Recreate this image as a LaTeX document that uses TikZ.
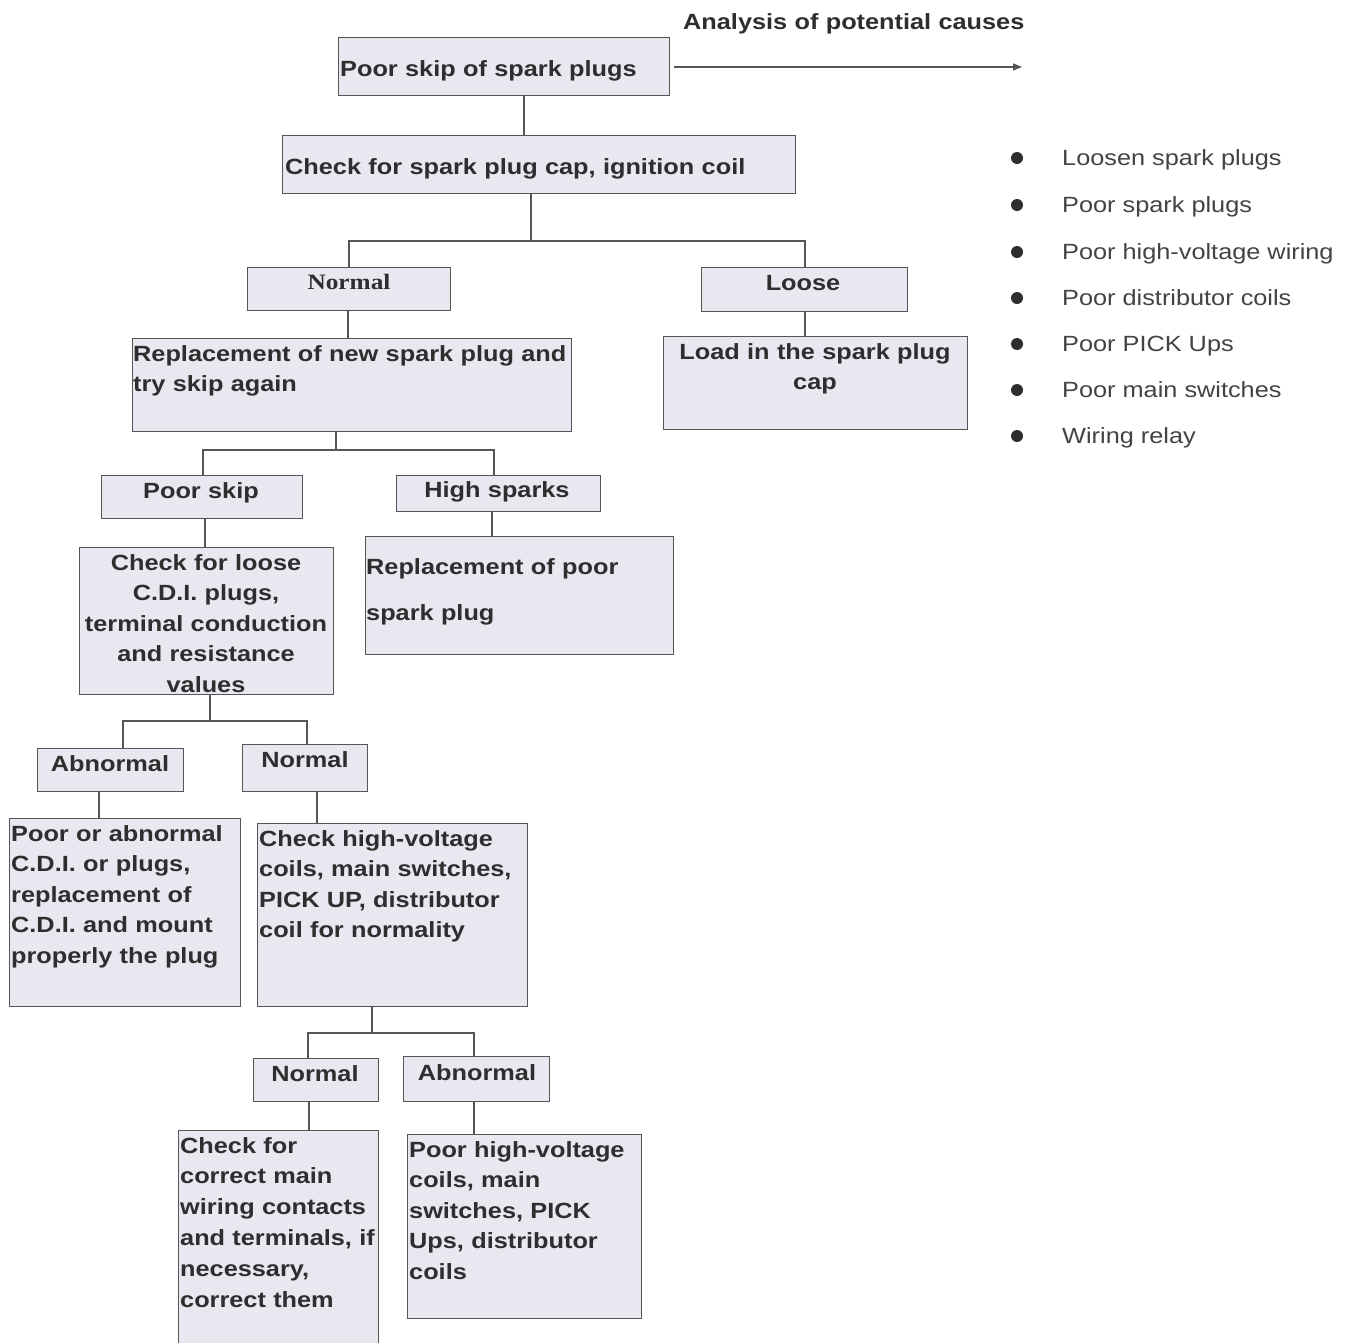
\documentclass[tikz,border=0pt]{standalone}
\usepackage{fontspec}
\setmainfont{Liberation Sans}[FakeStretch=1.15]
\newfontfamily\serifb{Liberation Serif}[FakeStretch=1.15]
\usetikzlibrary{arrows.meta}
\definecolor{boxfill}{HTML}{E9E7EF}
\definecolor{boxline}{HTML}{555555}
\definecolor{txt}{HTML}{2E2E2E}
\tikzset{
  box/.style={draw=boxline, fill=boxfill, line width=1.3pt, inner sep=0pt, rectangle},
  conn/.style={draw=boxline, line width=1.6pt},
  tl/.style={inner sep=0pt, text=txt, font=\fontsize{22}{30.6}\selectfont\bfseries, align=left, text width=#1, anchor=base west},
  tl/.default=400pt,
  tc/.style={inner sep=0pt, text=txt, font=\fontsize{22}{30.6}\selectfont\bfseries, align=center, text width=#1, anchor=base},
  tc/.default=300pt,
  lst/.style={inner sep=0pt, text=txt!90, font=\fontsize{22}{30.6}\selectfont, anchor=base west},
  dot/.style={circle, fill=txt, inner sep=0pt, minimum size=12pt}
}
\newcommand\bx[5]{\node[box, anchor=north west, minimum width={#4-#2}, minimum height={#5-#3}] (#1) at (#2,#3) {};}
\begin{document}
\begin{tikzpicture}[x=1pt,y=-1pt]
\useasboundingbox[fill=white] (0,0) rectangle (1349,1342);
% boxes
\bx{A}{338}{37}{669}{95}
\bx{B}{282}{135}{795}{193}
\bx{N1}{247}{267}{450}{310}
\bx{L}{701}{267}{907}{311}
\bx{C}{132}{338}{571}{431}
\bx{D}{663}{336}{967}{429}
\bx{PS}{101}{475}{302}{518}
\bx{HS}{396}{475}{600}{511}
\bx{E}{79}{547}{333}{694}
\bx{F}{365}{536}{673}{654}
\bx{AB1}{37}{748}{183}{791}
\bx{N2}{242}{744}{367}{791}
\bx{G}{9}{818}{240}{1006}
\bx{H}{257}{823}{527}{1006}
\bx{N3}{253}{1058}{378}{1101}
\bx{AB3}{403}{1056}{549}{1101}
\bx{I}{178}{1130}{378}{1352}
\bx{J}{407}{1134}{641}{1318}
% texts
\node[tl=420pt] (tTitle) at (683,29) {Analysis of potential causes};
\node[tl] (tA) at (340,76) {Poor skip of spark plugs};
\node[tl=560pt] (tB) at (285,174) {Check for spark plug cap, ignition coil};
\node[tc=200pt, font=\fontsize{22}{30.6}\selectfont\serifb\bfseries] (tN1) at (349,289) {Normal};
\node[tc=200pt] (tL) at (803,290) {Loose};
\node[tl=440pt] (tC) at (133,361) {Replacement of new spark plug and\\try skip again};
\node[tc=300pt] (tD) at (815,359) {Load in the spark plug\\cap};
\node[tc=200pt] (tPS) at (201,498) {Poor skip};
\node[tc=200pt] (tHS) at (497,497) {High sparks};
\node[tc=260pt] (tE) at (206,570) {Check for loose\\C.D.I. plugs,\\terminal conduction\\and resistance\\values};
\node[tl=300pt, font=\fontsize{22}{46}\selectfont\bfseries] (tF) at (366,574) {Replacement of poor\\spark plug};
\node[tc=150pt] (tAB1) at (110,771) {Abnormal};
\node[tc=130pt] (tN2) at (305,767) {Normal};
\node[tl=240pt] (tG) at (11,841) {Poor or abnormal\\C.D.I. or plugs,\\replacement of\\C.D.I. and mount\\properly the plug};
\node[tl=280pt] (tH) at (259,846) {Check high-voltage\\coils, main switches,\\PICK UP, distributor\\coil for normality};
\node[tc=130pt] (tN3) at (315,1081) {Normal};
\node[tc=150pt] (tAB3) at (477,1080) {Abnormal};
\node[tl=210pt, font=\fontsize{22}{30.8}\selectfont\bfseries] (tI) at (180,1153) {Check for\\correct main\\wiring contacts\\and terminals, if\\necessary,\\correct them};
\node[tl=240pt] (tJ) at (409,1157) {Poor high-voltage\\coils, main\\switches, PICK\\Ups, distributor\\coils};
% list
\node[dot] (d1) at (1017,158) {}; \node[lst] (l1) at (1062,165.5) {Loosen spark plugs};
\node[dot] (d2) at (1017,205) {}; \node[lst] (l2) at (1062,212.5) {Poor spark plugs};
\node[dot] (d3) at (1017,252) {}; \node[lst] (l3) at (1062,259.5) {Poor high-voltage wiring};
\node[dot] (d4) at (1017,298) {}; \node[lst] (l4) at (1062,305.5) {Poor distributor coils};
\node[dot] (d5) at (1017,344) {}; \node[lst] (l5) at (1062,351.5) {Poor PICK Ups};
\node[dot] (d6) at (1017,390) {}; \node[lst] (l6) at (1062,397.5) {Poor main switches};
\node[dot] (d7) at (1017,436) {}; \node[lst] (l7) at (1062,443.5) {Wiring relay};
% arrow
\coordinate (arrEnd) at (1022,67);
\draw[conn, -{Triangle[length=9pt,width=7pt]}] ([xshift=4pt]A.east |- arrEnd) -- (arrEnd);
% connectors
\coordinate (xAB) at (524,0);
\draw[conn] (A.south -| xAB) -- (B.north -| xAB);
\coordinate (s1) at (531,241); \coordinate (x1a) at (349,0); \coordinate (x1b) at (805,0);
\draw[conn] (B.south -| s1) -- (s1);
\draw[conn] (N1.north -| x1a) |- (s1) -| (L.north -| x1b);
\coordinate (xNC) at (348,0);
\draw[conn] (N1.south -| xNC) -- (C.north -| xNC);
\coordinate (xLD) at (805,0);
\draw[conn] (L.south -| xLD) -- (D.north -| xLD);
\coordinate (s2) at (336,450); \coordinate (x2a) at (203,0); \coordinate (x2b) at (494,0);
\draw[conn] (C.south -| s2) -- (s2);
\draw[conn] (PS.north -| x2a) |- (s2) -| (HS.north -| x2b);
\coordinate (xPE) at (205,0);
\draw[conn] (PS.south -| xPE) -- (E.north -| xPE);
\coordinate (xHF) at (492,0);
\draw[conn] (HS.south -| xHF) -- (F.north -| xHF);
\coordinate (s3) at (210,721); \coordinate (x3a) at (123,0); \coordinate (x3b) at (307,0);
\draw[conn] (E.south -| s3) -- (s3);
\draw[conn] (AB1.north -| x3a) |- (s3) -| (N2.north -| x3b);
\coordinate (xAG) at (99,0);
\draw[conn] (AB1.south -| xAG) -- (G.north -| xAG);
\coordinate (xNH) at (317,0);
\draw[conn] (N2.south -| xNH) -- (H.north -| xNH);
\coordinate (s4) at (372,1033); \coordinate (x4a) at (308,0); \coordinate (x4b) at (474,0);
\draw[conn] (H.south -| s4) -- (s4);
\draw[conn] (N3.north -| x4a) |- (s4) -| (AB3.north -| x4b);
\coordinate (xNI) at (309,0);
\draw[conn] (N3.south -| xNI) -- (I.north -| xNI);
\coordinate (xAJ) at (474,0);
\draw[conn] (AB3.south -| xAJ) -- (J.north -| xAJ);
\end{tikzpicture}
\end{document}
